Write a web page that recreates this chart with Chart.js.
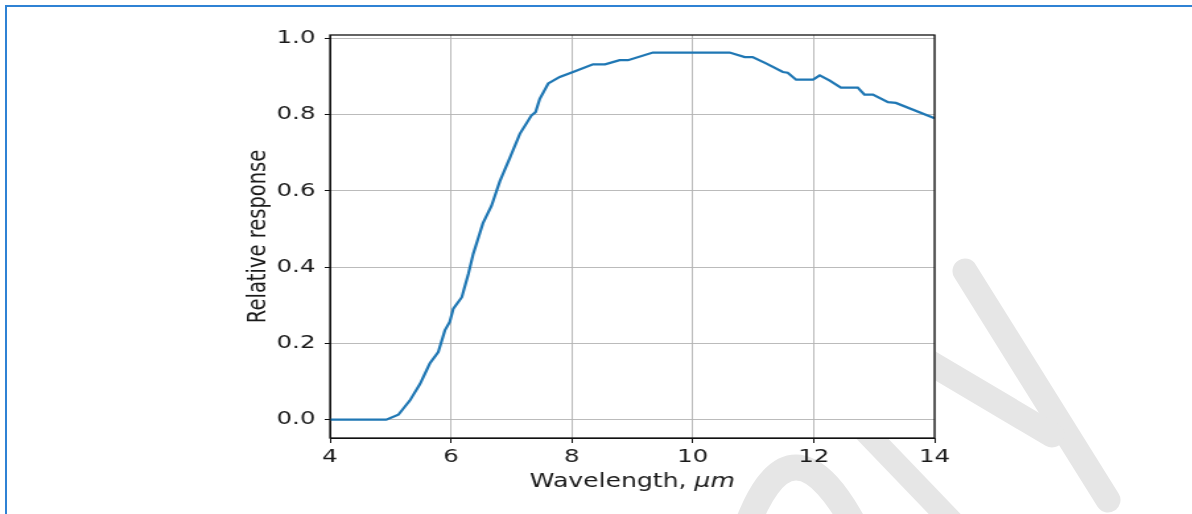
<!DOCTYPE html>
<html>
<head>
<meta charset="utf-8">
<script src="https://cdn.jsdelivr.net/npm/chart.js@4/dist/chart.umd.min.js"></script>
<style>
  html, body { margin: 0; padding: 0; background: #fff; overflow: hidden; }
  #page { position: relative; width: 1192px; height: 514px; overflow: hidden; background: #fff; }
  #frame { position: absolute; left: 5px; top: 5px; width: 1300px; height: 600px;
           border-left: 2px solid #2f82d4; border-top: 2px solid #2f82d4; }
  #wm { position: absolute; left: 0; top: 0; }
  #wrap { position: absolute; left: 0; top: 0; width: 903px; height: 514px;
          transform: scaleX(1.32); transform-origin: 0 0; }
</style>
</head>
<body>
<div id="page">
  <div id="frame"></div>
  <svg id="wm" width="1192" height="514" xmlns="http://www.w3.org/2000/svg">
    <g stroke="#e6e6e6" stroke-linecap="round" fill="none">
      <line x1="965" y1="271" x2="1108" y2="500" stroke-width="25"/>
      <line x1="900" y1="345" x2="1052" y2="435" stroke-width="25"/>
      <line x1="840" y1="405" x2="960" y2="530" stroke-width="23"/>
      <path d="M 742 540 Q 790 395 862 540" stroke-width="26"/>
    </g>
  </svg>
  <div id="wrap"><canvas id="c" width="903" height="514"></canvas></div>
</div>
<script>
const wavelengths = [4.00, 4.93, 5.13, 5.32, 5.49, 5.65, 5.79, 5.90, 5.98, 6.04, 6.18, 6.29, 6.37, 6.53, 6.67, 6.81, 6.98, 7.14, 7.33, 7.40, 7.47, 7.61, 7.80, 8.02, 8.35, 8.55, 8.79, 8.93, 9.34, 10.61, 10.86, 10.99, 11.22, 11.49, 11.57, 11.71, 11.99, 12.10, 12.26, 12.45, 12.73, 12.84, 12.98, 13.23, 13.36, 14.00];
const response = [0.000, 0.000, 0.013, 0.050, 0.094, 0.147, 0.177, 0.234, 0.256, 0.291, 0.321, 0.383, 0.435, 0.515, 0.560, 0.625, 0.688, 0.749, 0.797, 0.806, 0.841, 0.881, 0.898, 0.911, 0.931, 0.931, 0.942, 0.942, 0.962, 0.962, 0.950, 0.950, 0.933, 0.911, 0.909, 0.891, 0.891, 0.902, 0.889, 0.870, 0.870, 0.852, 0.852, 0.832, 0.830, 0.790];
const xTicks = [4, 6, 8, 10, 12, 14];
const yTicks = [0.0, 0.2, 0.4, 0.6, 0.8, 1.0];
const yTitle = 'Relative response';
const xTitleMain = 'Wavelength, ';
const xTitleUnit = 'μm';

const FONT = 'DejaVu Sans';
const TEXT = '#1a1a1a';

const framePlugin = {
  id: 'frame',
  beforeDraw(chart) {
    const a = chart.chartArea, ctx = chart.ctx;
    ctx.save();
    ctx.fillStyle = '#fff';
    ctx.fillRect(a.left, a.top, a.right - a.left, a.bottom - a.top);
    ctx.restore();
  },
  afterDraw(chart) {
    const a = chart.chartArea, ctx = chart.ctx;
    ctx.save();
    ctx.strokeStyle = '#111';
    ctx.lineWidth = 1.3;
    ctx.strokeRect(a.left, a.top, a.right - a.left, a.bottom - a.top);
    ctx.fillStyle = TEXT;
    ctx.textBaseline = 'alphabetic';
    ctx.textAlign = 'left';
    ctx.font = '19px "' + FONT + '"';
    const w1 = ctx.measureText(xTitleMain).width;
    ctx.font = 'italic 19px "' + FONT + '"';
    const w2 = ctx.measureText(xTitleUnit).width;
    const cx = (a.left + a.right) / 2;
    const x0 = cx - (w1 + w2) / 2;
    const y0 = 487;
    ctx.font = '19px "' + FONT + '"';
    ctx.fillText(xTitleMain, x0, y0);
    ctx.font = 'italic 19px "' + FONT + '"';
    ctx.fillText(xTitleUnit, x0 + w1, y0);
    ctx.restore();
  }
};

new Chart(document.getElementById('c'), {
  type: 'line',
  data: {
    datasets: [{
      data: wavelengths.map((x, i) => ({ x: x, y: response[i] })),
      borderColor: '#1f77b4',
      borderWidth: 2.2,
      pointRadius: 0,
      tension: 0,
      fill: false
    }]
  },
  options: {
    responsive: false,
    animation: false,
    devicePixelRatio: 1,
    layout: { padding: { left: 180, right: 195, top: 35, bottom: 0 } },
    plugins: { legend: { display: false }, tooltip: { enabled: false }, title: { display: false } },
    scales: {
      x: {
        type: 'linear',
        min: 4, max: 14,
        afterBuildTicks: s => { s.ticks = xTicks.map(v => ({ value: v })); },
        afterFit: s => { s.height = 76; },
        ticks: { font: { family: FONT, size: 18.5 }, color: TEXT, padding: 3, maxRotation: 0,
                 callback: v => String(v) },
        grid: { color: '#b3b3b3', lineWidth: 0.9, tickLength: 5, tickColor: '#111', tickWidth: 1 },
        border: { display: true, color: '#111', width: 1 }
      },
      y: {
        type: 'linear',
        min: -0.048, max: 1.008,
        afterBuildTicks: s => { s.ticks = yTicks.map(v => ({ value: v })); },
        afterFit: s => { s.width = 70; },
        ticks: { font: { family: FONT, size: 18.5 }, color: TEXT, padding: 7,
                 callback: v => Number(v).toFixed(1) },
        grid: { color: '#b3b3b3', lineWidth: 0.9, tickLength: 4, tickColor: '#111', tickWidth: 1 },
        border: { display: true, color: '#111', width: 1 },
        title: { display: true, text: yTitle, font: { family: FONT, size: 19.5 }, color: TEXT, padding: 4 }
      }
    }
  },
  plugins: [framePlugin]
});
</script>
</body>
</html>
